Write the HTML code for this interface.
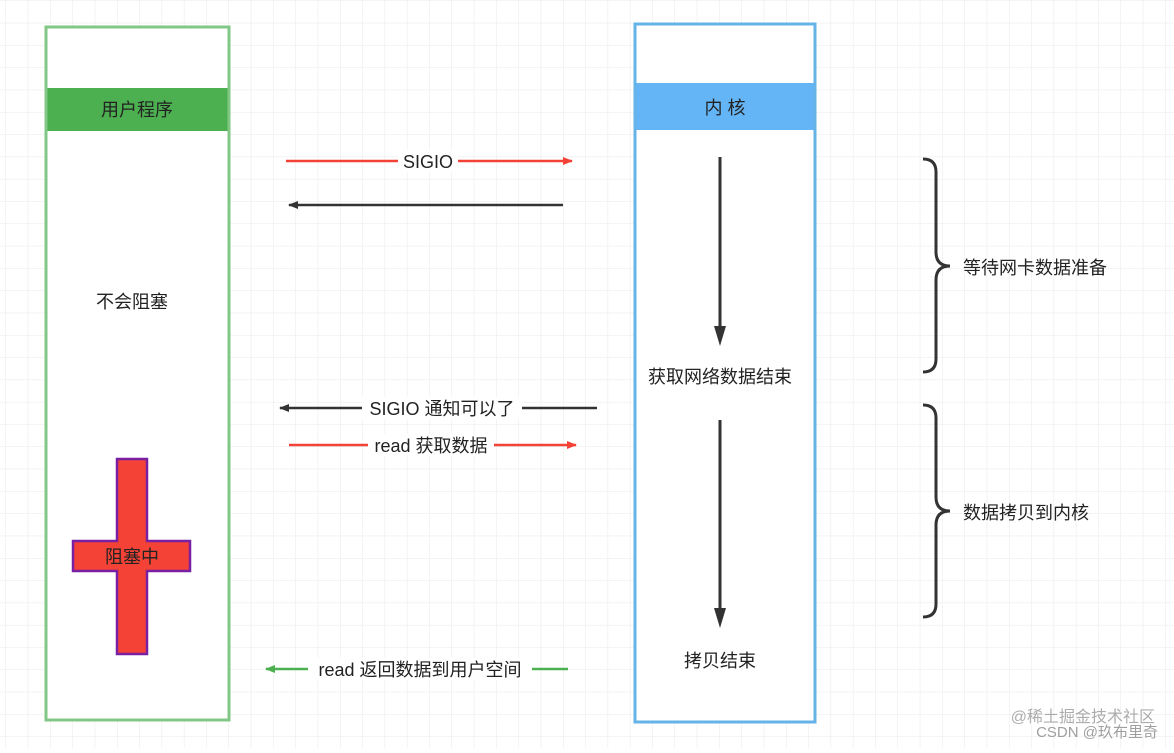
<!DOCTYPE html>
<html><head><meta charset="utf-8"><style>
body{margin:0;width:1174px;height:748px;overflow:hidden;background:#fff;font-family:"Liberation Sans","Noto Sans CJK SC",sans-serif}
</style></head><body>
<svg width="1174" height="748" xmlns="http://www.w3.org/2000/svg" font-family="Liberation Sans, Noto Sans CJK SC, sans-serif">
<defs>
<pattern id="g" x="6" y="1" width="22.3" height="22.3" patternUnits="userSpaceOnUse">
<path d="M22.3 0V22.3M0 22.3H22.3" stroke="#e8e8e8" stroke-width="1" fill="none"/>
</pattern>
<marker id="ar" markerWidth="10" markerHeight="8" refX="9" refY="4" orient="auto" markerUnits="userSpaceOnUse"><path d="M0 0L10 4L0 8Z" fill="#f44336"/></marker>
<marker id="ab" markerWidth="10" markerHeight="8" refX="9" refY="4" orient="auto" markerUnits="userSpaceOnUse"><path d="M0 0L10 4L0 8Z" fill="#333"/></marker>
<marker id="ag" markerWidth="10" markerHeight="8" refX="9" refY="4" orient="auto" markerUnits="userSpaceOnUse"><path d="M0 0L10 4L0 8Z" fill="#4caf50"/></marker>
<marker id="av" markerWidth="12" markerHeight="20" refX="6" refY="19" orient="0" markerUnits="userSpaceOnUse"><path d="M0 0L6 20L12 0L6 4Z" fill="#333"/></marker>
</defs>
<rect width="1174" height="748" fill="url(#g)"/>
<!-- left box -->
<rect x="46" y="27" width="183" height="693" fill="#fff" stroke="#82c785" stroke-width="3"/>
<rect x="47.5" y="88" width="180" height="43" fill="#4caf50"/>
<text x="137" y="116" font-size="18" fill="#222" text-anchor="middle">用户程序</text>
<text x="132" y="308" font-size="18" fill="#222" text-anchor="middle">不会阻塞</text>
<!-- cross -->
<path d="M117 459H147V541H190V571H147V654H117V571H73V541H117Z" fill="#f44336" stroke="#7b1fa2" stroke-width="2.5"/>
<text x="132" y="563" font-size="18" fill="#222" text-anchor="middle">阻塞中</text>
<!-- kernel box -->
<rect x="635" y="24" width="180" height="698" fill="#fff" stroke="#66b3e8" stroke-width="3"/>
<rect x="636.5" y="83" width="177" height="47" fill="#64b5f6"/>
<text x="725" y="114" font-size="18" fill="#222" text-anchor="middle">内 核</text>
<!-- vertical arrows -->
<line x1="720" y1="157" x2="720" y2="326" stroke="#333" stroke-width="3"/>
<path d="M714 326L720 346L726 326Z" fill="#333"/>
<line x1="720" y1="420" x2="720" y2="608" stroke="#333" stroke-width="3"/>
<path d="M714 608L720 628L726 608Z" fill="#333"/>
<text x="720" y="383" font-size="18" fill="#222" text-anchor="middle">获取网络数据结束</text>
<text x="720" y="667" font-size="18" fill="#222" text-anchor="middle">拷贝结束</text>
<!-- horizontal arrows -->
<line x1="286" y1="161" x2="572" y2="161" stroke="#f44336" stroke-width="2.5" marker-end="url(#ar)"/>
<rect x="398" y="150" width="60" height="22" fill="#fff"/>
<text x="428" y="168" font-size="18" fill="#222" text-anchor="middle">SIGIO</text>
<line x1="563" y1="205" x2="289" y2="205" stroke="#333" stroke-width="2.5" marker-end="url(#ab)"/>
<line x1="597" y1="408" x2="280" y2="408" stroke="#333" stroke-width="2.5" marker-end="url(#ab)"/>
<rect x="362" y="397" width="160" height="22" fill="#fff"/>
<text x="442" y="415" font-size="18" fill="#222" text-anchor="middle">SIGIO 通知可以了</text>
<line x1="289" y1="445" x2="576" y2="445" stroke="#f44336" stroke-width="2.5" marker-end="url(#ar)"/>
<rect x="368" y="434" width="126" height="22" fill="#fff"/>
<text x="431" y="452" font-size="18" fill="#222" text-anchor="middle">read 获取数据</text>
<line x1="568" y1="669" x2="266" y2="669" stroke="#4caf50" stroke-width="2.5" marker-end="url(#ag)"/>
<rect x="308" y="658" width="224" height="22" fill="#fff"/>
<text x="420" y="676" font-size="18" fill="#222" text-anchor="middle">read 返回数据到用户空间</text>
<!-- braces -->
<path d="M923 159Q936 159 936 172V252Q936 266 950 266Q936 266 936 280V359Q936 372 923 372" fill="none" stroke="#333" stroke-width="3"/>
<path d="M923 405Q936 405 936 418V497Q936 511 950 511Q936 511 936 525V604Q936 617 923 617" fill="none" stroke="#333" stroke-width="3"/>
<text x="963" y="274" font-size="18" fill="#222">等待网卡数据准备</text>
<text x="963" y="519" font-size="18" fill="#222">数据拷贝到内核</text>
<!-- watermark -->
<text x="1155" y="722" font-size="16" fill="#999" text-anchor="end" opacity="0.8">@稀土掘金技术社区</text>
<text x="1158" y="737" font-size="15" fill="#888" text-anchor="end" opacity="0.8">CSDN @玖布里奇</text>
</svg>
</body></html>
